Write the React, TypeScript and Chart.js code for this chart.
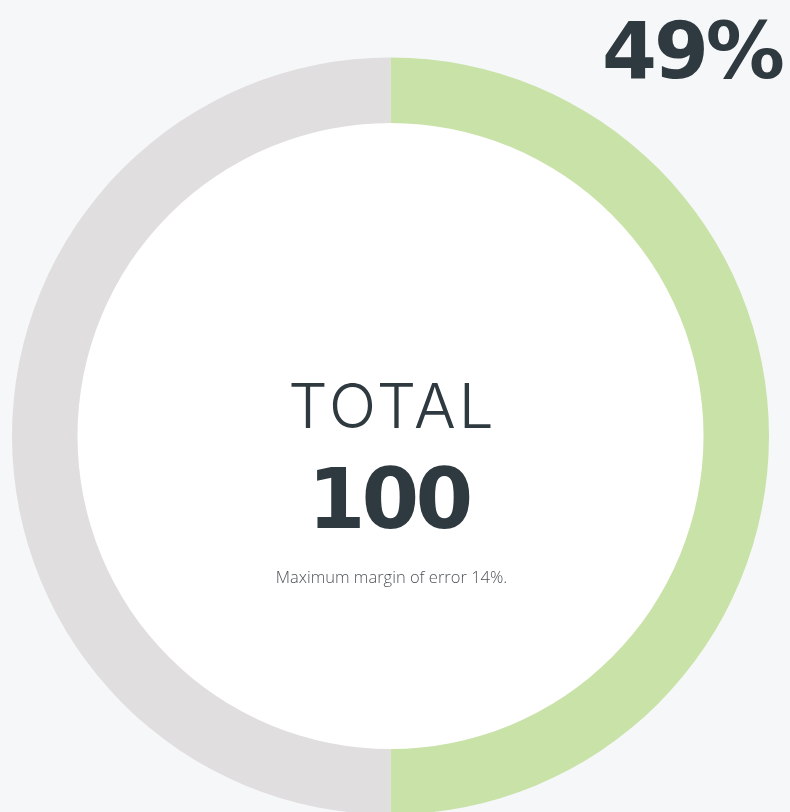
import { useEffect, useRef } from 'react';
import { Chart, registerables } from 'chart.js';

Chart.register(...registerables);

const segmentLabels = ['Share', 'Remainder'];
const segmentValues = [50, 50];
const segmentColors = ['#c8e2a8', '#e0dedf'];
const percentText = '49%';
const totalLabel = 'TOTAL';
const totalValue = '100';
const noteText = 'Maximum margin of error 14%.';

const TEXT_COLOR = '#2f3a40';
const BG = '#f6f7f9';

const centerPlugin = {
  id: 'centerContent',
  beforeDatasetsDraw(chart: any) {
    const arc = chart.getDatasetMeta(0).data[0] as any;
    if (!arc) return;
    const ctx = chart.ctx;
    ctx.save();
    ctx.beginPath();
    ctx.arc(arc.x, arc.y, arc.innerRadius + 0.5, 0, Math.PI * 2);
    ctx.fillStyle = '#ffffff';
    ctx.fill();
    ctx.restore();
  },
  afterDatasetsDraw(chart: any) {
    const arc = chart.getDatasetMeta(0).data[0] as any;
    if (!arc) return;
    const ctx = chart.ctx;
    const cx = arc.x;
    const cy = arc.y;
    ctx.save();
    ctx.fillStyle = TEXT_COLOR;
    ctx.textBaseline = 'alphabetic';

    ctx.textAlign = 'center';
    ctx.font = '300 62px Inter';
    (ctx as any).letterSpacing = '3px';
    ctx.fillText(totalLabel, cx + 2, cy - 8);

    ctx.font = 'bold 83px "DejaVu Sans"';
    (ctx as any).letterSpacing = '-4px';
    ctx.fillText(totalValue, cx - 2, cy + 92);

    ctx.font = '300 16.5px "Open Sans"';
    (ctx as any).letterSpacing = '0px';
    ctx.fillStyle = '#4d5358';
    ctx.fillText(noteText, cx + 1, cy + 147);

    ctx.fillStyle = TEXT_COLOR;
    ctx.textAlign = 'right';
    ctx.font = 'bold 79px "DejaVu Sans"';
    (ctx as any).letterSpacing = '-3px';
    ctx.fillText(percentText, chart.chartArea.right + 13, 78);
    ctx.restore();
  },
};

export default function App() {
  const ref = useRef<HTMLCanvasElement | null>(null);

  useEffect(() => {
    if (!ref.current) return;
    const chart = new Chart(ref.current, {
      type: 'doughnut',
      data: {
        labels: segmentLabels,
        datasets: [
          {
            data: segmentValues,
            backgroundColor: segmentColors,
            hoverBackgroundColor: segmentColors,
            borderWidth: 0,
            hoverOffset: 0,
            offset: 0,
          },
        ],
      },
      options: {
        responsive: false,
        maintainAspectRatio: false,
        animation: false,
        events: [],
        cutout: '82.7%',
        layout: { padding: { left: 12, right: 21, top: 57.5, bottom: 65.5 } },
        plugins: {
          legend: { display: false },
          tooltip: { enabled: false },
        },
      },
      plugins: [centerPlugin],
    });
    return () => chart.destroy();
  }, []);

  return (
    <div
      style={{
        position: 'absolute',
        left: 0,
        top: 0,
        width: 790,
        height: 812,
        overflow: 'hidden',
        background: BG,
      }}
    >
      <canvas ref={ref} width={790} height={880} style={{ display: 'block' }} />
    </div>
  );
}
